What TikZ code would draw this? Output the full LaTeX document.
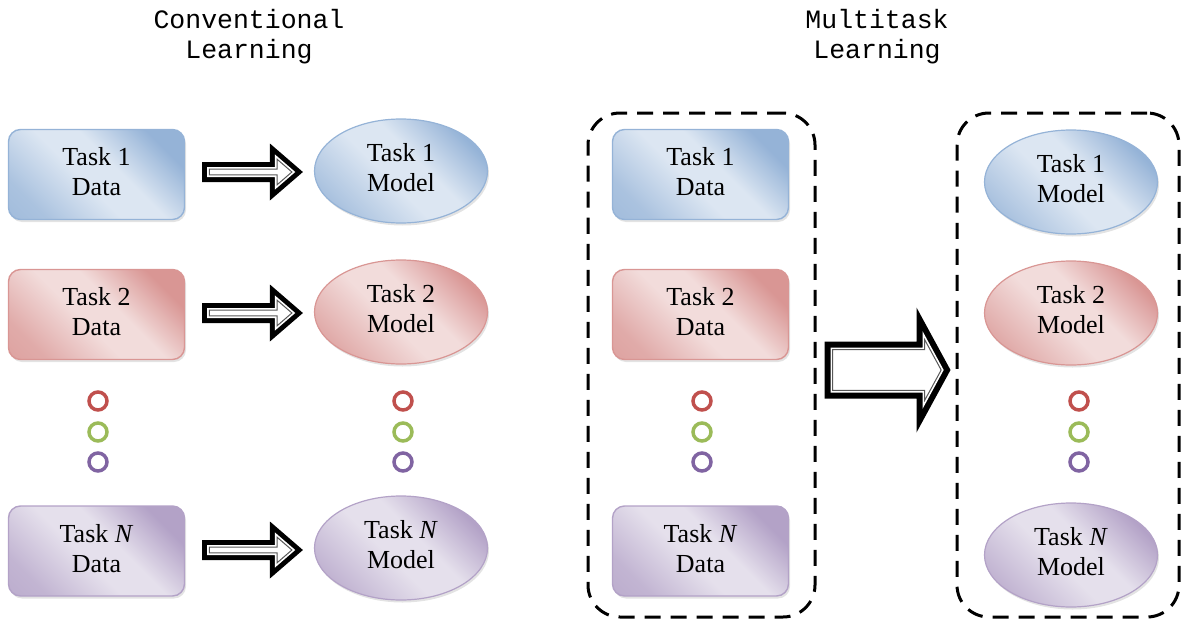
\documentclass[tikz,border=0pt]{standalone}
\usepackage{fontspec}
\setmainfont{Liberation Serif}
\newfontfamily\titlefont{Liberation Mono}
\usetikzlibrary{shapes.geometric,calc,shadows}

% Office-style palette
\definecolor{bLight}{HTML}{DCE6F2}\definecolor{bDark}{HTML}{95B3D7}
\definecolor{rLight}{HTML}{F2DCDB}\definecolor{rDark}{HTML}{D99694}
\definecolor{pLight}{HTML}{E5E0EC}\definecolor{pDark}{HTML}{B3A2C7}
\definecolor{dotRed}{HTML}{C0504D}\definecolor{dotGreen}{HTML}{9BBB59}
\definecolor{dotPurple}{HTML}{8064A2}

% diagonal "glow" fills: darker corners, light band across the middle
\pgfdeclarehorizontalshading{blueglow}{100bp}{color(0bp)=(bDark); color(25bp)=(bDark!70!bLight); color(45bp)=(bLight); color(57bp)=(bLight); color(75bp)=(bDark); color(100bp)=(bDark)}
\pgfdeclarehorizontalshading{redglow}{100bp}{color(0bp)=(rDark); color(25bp)=(rDark!70!rLight); color(45bp)=(rLight); color(57bp)=(rLight); color(75bp)=(rDark); color(100bp)=(rDark)}
\pgfdeclarehorizontalshading{purpleglow}{100bp}{color(0bp)=(pDark); color(25bp)=(pDark!70!pLight); color(45bp)=(pLight); color(57bp)=(pLight); color(75bp)=(pDark); color(100bp)=(pDark)}

\tikzset{
  every node/.style={font=\fontsize{26}{30}\selectfont, align=center, inner sep=0pt},
  title/.style={font=\titlefont\fontsize{26.5}{30}\selectfont},
  softshadow/.style={drop shadow={opacity=0.22, shadow xshift=1.5pt, shadow yshift=-2.5pt}},
  databox/.style={rectangle, rounded corners=12pt, minimum width=176pt, minimum height=90pt,
                  line width=1.4pt, softshadow, execute at end node={\rule[-6pt]{0pt}{0pt}}},
  modelnode/.style={ellipse, minimum width=173pt, minimum height=104pt, line width=1.2pt, softshadow,
                  execute at end node={\rule[-8pt]{0pt}{0pt}}},
  blueish/.style={draw=bDark, shading=blueglow, shading angle=45},
  reddish/.style={draw=rDark, shading=redglow, shading angle=45},
  purplish/.style={draw=pDark, shading=purpleglow, shading angle=45},
  dot/.style={circle, draw, line width=3.5pt, minimum size=18pt},
  groupframe/.style={rectangle, draw=black, line width=3pt, rounded corners=32pt,
                     dash pattern=on 16pt off 10pt, minimum height=504pt},
}

% one layer of a hollow block arrow, inset by #7 from the outer outline
% #2 start, #3 tip, #4 half shaft, #5 half head, #6 head length
\newcommand\arrowlayer[7]{%
  \path[#1] let \p1=(#2), \p2=(#3),
      \n1={(#5)/(#6)}, \n2={sqrt(1+\n1*\n1)},
      \n3={(#7)*\n2/\n1}, \n4={(#5)-\n1*(#7)-(#7)*\n2} in
    ({\x1+(#7)},{\y1+(#4)-(#7)}) -- ({\x2-(#6)+(#7)},{\y1+(#4)-(#7)})
    -- ({\x2-(#6)+(#7)},{\y1+\n4}) -- ({\x2-\n3},\y1)
    -- ({\x2-(#6)+(#7)},{\y1-\n4}) -- ({\x2-(#6)+(#7)},{\y1-(#4)+(#7)})
    -- ({\x1+(#7)},{\y1-(#4)+(#7)}) -- cycle;}
% #6 = width of the black rim
\newcommand\blockarrow[6]{%
  \arrowlayer{fill=black}{#1}{#2}{#3}{#4}{#5}{0}
  \arrowlayer{fill=white}{#1}{#2}{#3}{#4}{#5}{#6}
  \arrowlayer{draw=black!65, line width=1pt, line join=miter}{#1}{#2}{#3}{#4}{#5}{#6+2.2}}

\begin{document}
\begin{tikzpicture}[x=1pt,y=-1pt]
\useasboundingbox (0,0) rectangle (1185,626);

% headings
\node[title] (tconv) at (249,37) {Conventional\\Learning};
\node[title] (tmulti) at (877,37) {Multitask\\Learning};

% conventional learning: one model per task
\node[databox, blueish]   (d1) at (96.5,174.5) {Task 1\\Data};
\node[databox, reddish]   (d2) at (96.5,314.5) {Task 2\\Data};
\node[databox, purplish]  (dn) at (96.5,551)   {Task \textit{N}\\Data};
\node[modelnode, blueish]  (m1) at (401,171) {Task 1\\Model};
\node[modelnode, reddish]  (m2) at (401,312) {Task 2\\Model};
\node[modelnode, purplish] (mn) at (401,548) {Task \textit{N}\\Model};

\node[dot, draw=dotRed]    (ld1) at (98,401) {};
\node[dot, draw=dotGreen]  (ld2) at (98,432) {};
\node[dot, draw=dotPurple] (ld3) at (98,462) {};
\node[dot, draw=dotRed]    (md1) at (403,401) {};
\node[dot, draw=dotGreen]  (md2) at (403,432) {};
\node[dot, draw=dotPurple] (md3) at (403,462) {};

\coordinate (a1s) at ($(d1.east|-m1.center)+(17,1)$);
\coordinate (a1t) at ($(m1.west)+(-11,1)$);
\coordinate (a2s) at ($(d2.east|-m2.center)+(17,1)$);
\coordinate (a2t) at ($(m2.west)+(-11,1)$);
\coordinate (ans) at ($(dn.east|-mn.center)+(17,2)$);
\coordinate (ant) at ($(mn.west)+(-11,2)$);
\blockarrow{a1s}{a1t}{10}{28.5}{33}{5}
\blockarrow{a2s}{a2t}{10}{28.5}{33}{5}
\blockarrow{ans}{ant}{10}{28.5}{33}{5}

% multitask learning: all task data feed all models
\node[groupframe, minimum width=227pt] (f1) at (701.5,365) {};
\node[groupframe, minimum width=222pt] (f2) at (1068,365) {};

\node[databox, blueish]   (rd1) at (700.5,174.5) {Task 1\\Data};
\node[databox, reddish]   (rd2) at (700.5,314.5) {Task 2\\Data};
\node[databox, purplish]  (rdn) at (700.5,551)   {Task \textit{N}\\Data};
\node[dot, draw=dotRed]    (rdd1) at (702,401) {};
\node[dot, draw=dotGreen]  (rdd2) at (702,432) {};
\node[dot, draw=dotPurple] (rdd3) at (702,462) {};

\node[modelnode, blueish]  (rm1) at (1071,182) {Task 1\\Model};
\node[modelnode, reddish]  (rm2) at (1071,313) {Task 2\\Model};
\node[modelnode, purplish] (rmn) at (1071,555) {Task \textit{N}\\Model};
\node[dot, draw=dotRed]    (rmd1) at (1079,401) {};
\node[dot, draw=dotGreen]  (rmd2) at (1079,432) {};
\node[dot, draw=dotPurple] (rmd3) at (1079,462) {};

\coordinate (bs) at ($(f1.east)+(8,5)$);
\coordinate (bt) at ($(f2.west)+(-5,5)$);
\blockarrow{bs}{bt}{28.5}{62.5}{34}{6}
\end{tikzpicture}
\end{document}
